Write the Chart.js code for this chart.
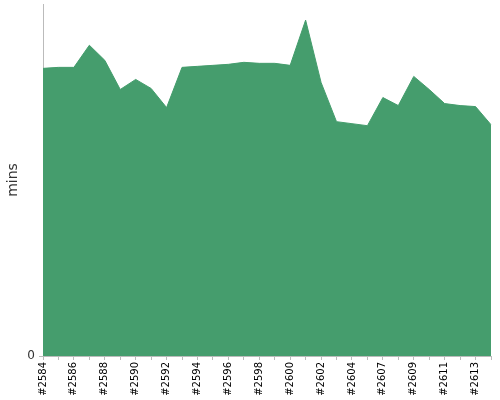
<!DOCTYPE html>
<html>
<head>
<meta charset="utf-8">
<script src="https://cdn.jsdelivr.net/npm/chart.js@4"></script>
<style>
  html, body { margin: 0; padding: 0; background: #fff; }
  #wrap { width: 500px; height: 400px; }
</style>
</head>
<body>
<div id="wrap"><canvas id="buildChart"></canvas></div>
<script>
const builds = ["#2584", "#2585", "#2586", "#2587", "#2588", "#2589", "#2590", "#2591", "#2592", "#2593",
  "#2594", "#2595", "#2596", "#2597", "#2598", "#2599", "#2600", "#2601", "#2602", "#2603",
  "#2604", "#2606", "#2607", "#2608", "#2609", "#2610", "#2611", "#2612", "#2613", "#2614"];
const durations = [28.6, 28.7, 28.7, 30.9, 29.4, 26.5, 27.5, 26.6, 24.7, 28.7,
  28.8, 28.9, 29.0, 29.2, 29.1, 29.1, 28.9, 33.4, 27.2, 23.3,
  23.1, 22.9, 25.7, 24.9, 27.8, 26.5, 25.1, 24.9, 24.8, 23.0];
const yTicks = [0];

Chart.defaults.font.family = "'DejaVu Sans', Verdana, sans-serif";

let ctx = document.getElementById("buildChart").getContext("2d");

new Chart(ctx, {
  type: "line",
  data: {
    labels: builds,
    datasets: [{
      label: "mins",
      data: durations,
      fill: "origin",
      backgroundColor: "#459d6d",
      borderColor: "#459d6d",
      borderWidth: 1,
      pointRadius: 0,
      tension: 0
    }]
  },
  options: {
    responsive: true,
    maintainAspectRatio: false,
    animation: false,
    layout: { padding: { top: 4, right: 9, left: 5 } },
    plugins: {
      legend: { display: false },
      tooltip: { enabled: false }
    },
    scales: {
      x: {
        offset: false,
        grid: { drawOnChartArea: false, tickLength: 4, color: "#bbb" },
        border: { color: "#bbb" },
        ticks: {
          autoSkip: false,
          maxRotation: 90,
          minRotation: 90,
          color: "#000",
          font: { size: 10 },
          padding: 2,
          callback: (v, i) => i % 2 === 0 && i < 29 ? builds[i] : ""
        },
        afterFit: s => { s.height = 44; s.paddingRight = 0; s.paddingLeft = 0; }
      },
      y: {
        min: 0,
        max: 35,
        grid: { drawOnChartArea: false, tickLength: 4, color: "#bbb" },
        border: { color: "#bbb" },
        title: { display: true, text: "mins", color: "#333", font: { size: 14 }, padding: 0 },
        afterBuildTicks: s => { s.ticks = yTicks.map(v => ({ value: v })); },
        ticks: { color: "#333", font: { size: 12 }, padding: 4 },
        afterFit: s => { s.width = 38; s.paddingTop = 0; s.paddingBottom = 0; }
      }
    }
  }
});
</script>
</body>
</html>
